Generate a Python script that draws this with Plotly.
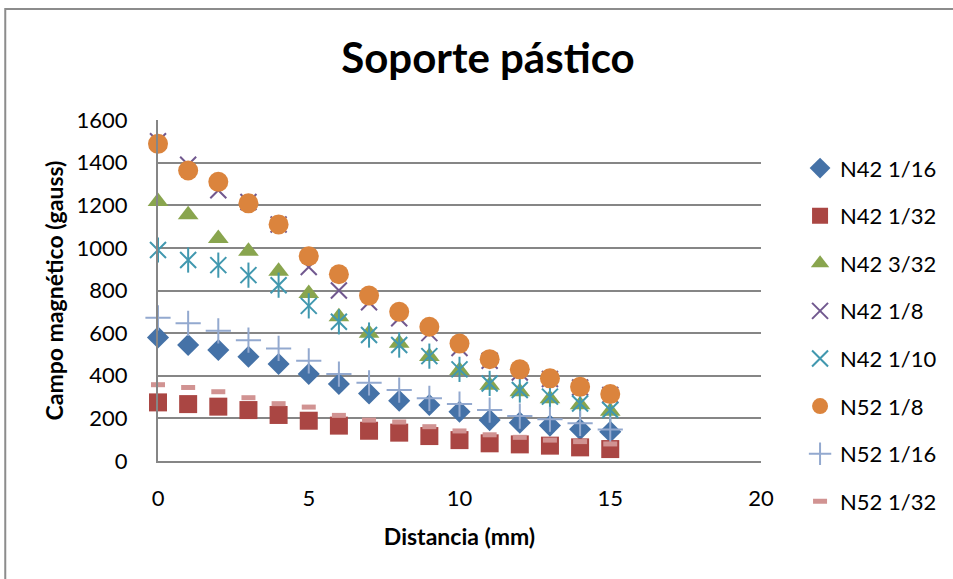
import plotly.graph_objects as go

distancia = list(range(16))

n42_1_16 = [580, 544, 521, 489, 455, 408, 361, 317, 283, 263, 231, 192, 180, 166, 149, 137]
n42_1_32 = [275, 267, 255, 239, 216, 189, 166, 142, 133, 117, 98, 83, 78, 72, 64, 56]
n42_3_32 = [1218, 1156, 1044, 984, 890, 786, 677, 600, 552, 490, 425, 356, 325, 292, 264, 233]
n42_1_8 = [1500, 1390, 1270, 1215, 1110, 910, 800, 745, 670, 600, 530, 470, 415, 385, 345, 310]
n42_1_10 = [990, 943, 919, 872, 825, 728, 653, 591, 544, 492, 430, 364, 333, 302, 270, 239]
n52_1_8 = [1488, 1363, 1310, 1209, 1110, 961, 876, 776, 700, 630, 551, 478, 430, 388, 348, 314]
n52_1_16 = [672, 646, 611, 567, 528, 470, 408, 367, 333, 294, 267, 239, 211, 196, 177, 148]
n52_1_32 = [358, 345, 325, 297, 269, 253, 214, 192, 183, 161, 141, 123, 111, 98, 91, 80]

x_ticks = [0, 5, 10, 15, 20]
y_ticks = [0, 200, 400, 600, 800, 1000, 1200, 1400, 1600]

FONT = "Lato"

fig = go.Figure()

def add(name, y, symbol, color, size, lw=0, group=None, showlegend=True):
    fig.add_trace(go.Scatter(
        x=distancia, y=y, mode="markers", name=name,
        legendgroup=group or name, showlegend=showlegend,
        marker=dict(symbol=symbol, size=size, color=color,
                    line=dict(width=lw, color=color)),
        cliponaxis=False,
    ))

add("N42 1/16", n42_1_16, "diamond", "#4572A7", 17)
add("N42 1/32", n42_1_32, "square", "#AA4643", 18)
add("N42 3/32", n42_3_32, "triangle-up", "#89A54E", 18)
add("N42 1/8", n42_1_8, "x-thin-open", "#71588F", 16, lw=2)
add("N42 1/10", n42_1_10, "x-thin-open", "#4198AF", 16, lw=2)
add("N42 1/10 v", n42_1_10, "line-ns-open", "#4198AF", 18, lw=2, group="N42 1/10", showlegend=False)
add("N52 1/8", n52_1_8, "circle", "#DB843D", 20)
add("N52 1/16", n52_1_16, "cross-thin-open", "#93A9CF", 18, lw=2)
add("N52 1/32", n52_1_32, "line-ew-open", "#D19392", 10, lw=5)

fig.update_layout(
    width=953, height=579,
    margin=dict(l=158, r=191, t=120, b=118),
    paper_bgcolor="white", plot_bgcolor="white",
    font=dict(family=FONT, color="black", size=22),
    title=dict(text="<b>Soporte pástico</b>", x=0.512, xanchor="center",
               y=0.9, yanchor="middle", font=dict(family=FONT, size=42)),
    showlegend=True,
    legend=dict(x=1.063, xanchor="left", y=0.92, yanchor="top",
                tracegroupgap=16, traceorder="grouped", maxheight=470,
                font=dict(family=FONT, size=22), itemsizing="trace",
                bgcolor="rgba(0,0,0,0)"),
    xaxis=dict(range=[0, 20], tickvals=x_ticks, showgrid=False,
               showline=True, linecolor="#868686", linewidth=2,
               zeroline=False, ticks="outside", ticklen=17, tickcolor="rgba(0,0,0,0)",
               tickfont=dict(size=22),
               title=dict(text="<b>Distancia (mm)</b>", font=dict(size=23), standoff=18)),
    yaxis=dict(range=[0, 1600], tickvals=y_ticks, showgrid=True,
               gridcolor="#868686", gridwidth=2,
               showline=True, linecolor="#868686", linewidth=2,
               zeroline=False, ticks="outside", ticklen=24, tickcolor="rgba(0,0,0,0)",
               tickfont=dict(size=22),
               title=dict(text="<b>Campo magnético (gauss)</b>", font=dict(size=23), standoff=7)),
    shapes=[dict(type="rect", xref="paper", yref="paper",
                 x0=-0.2533, x1=1.4, y0=-0.45, y1=1.3255,
                 line=dict(color="#8C8C8C", width=2), layer="below")],
)

fig.write_html("out.html")
